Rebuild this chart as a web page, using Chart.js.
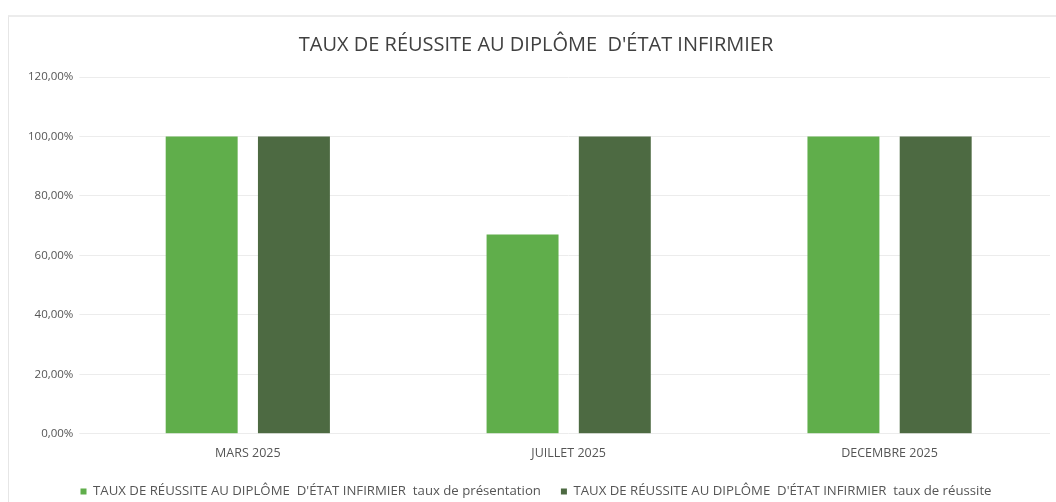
<!DOCTYPE html>
<html>
<head>
<meta charset="utf-8">
<script src="https://cdn.jsdelivr.net/npm/chart.js@4"></script>
<style>
  html, body { margin: 0; padding: 0; background: #fff; }
  #wrap { position: absolute; left: 8px; top: 15px; width: 1048px; height: 487px; border-left: 1px solid #e6e6e6; border-top: 2px solid #ececec; box-sizing: border-box; }
  canvas { position: absolute; left: 0; top: 0; }
</style>
</head>
<body>
<div id="wrap"></div>
<canvas id="myChart" width="1056" height="502"></canvas>
<script>
const categories = ["MARS 2025", "JUILLET 2025", "DECEMBRE 2025"];
const presentation = [100, 67, 100];
const reussite = [100, 100, 100];
const seriesNames = [
  "TAUX DE RÉUSSITE AU DIPLÔME  D'ÉTAT INFIRMIER  taux de présentation",
  "TAUX DE RÉUSSITE AU DIPLÔME  D'ÉTAT INFIRMIER  taux de réussite"
];

// pull the legend a bit closer to the bottom edge
const legendShift = {
  id: 'legendShift',
  beforeInit(chart) {
    const origFit = chart.legend.fit;
    chart.legend.fit = function () {
      origFit.bind(chart.legend)();
      this.height -= 6;
    };
  }
};

const ctx = document.getElementById('myChart');

new Chart(ctx, {
  type: 'bar',
  data: {
    labels: categories,
    datasets: [{
      label: seriesNames[0],
      data: presentation,
      backgroundColor: '#60ae4b',
      categoryPercentage: 0.575,
      barPercentage: 0.78
    }, {
      label: seriesNames[1],
      data: reussite,
      backgroundColor: '#4d6a42',
      categoryPercentage: 0.575,
      barPercentage: 0.78
    }]
  },
  options: {
    responsive: false,
    animation: false,
    layout: { padding: { left: 22, right: 6, top: 33, bottom: 0 } },
    plugins: {
      title: {
        display: true,
        text: "TAUX DE RÉUSSITE AU DIPLÔME  D'ÉTAT INFIRMIER",
        color: '#404040',
        font: { family: 'Open Sans', size: 20, weight: 'normal' },
        padding: { top: 0, bottom: 20 }
      },
      legend: {
        position: 'bottom',
        labels: {
          color: '#555',
          font: { family: 'Open Sans', size: 13.2 },
          boxWidth: 6,
          boxHeight: 6,
          padding: 20
        }
      },
      tooltip: { enabled: false }
    },
    scales: {
      x: {
        grid: { display: false },
        border: { display: false },
        ticks: { color: '#555', font: { family: 'Open Sans', size: 12.5 }, padding: 4 }
      },
      y: {
        min: 0,
        max: 120,
        ticks: {
          stepSize: 20,
          color: '#555',
          font: { family: 'Open Sans', size: 11.5 },
          padding: 6,
          callback: v => v.toFixed(2).replace('.', ',') + '%'
        },
        grid: { color: '#ececec' },
        border: { display: false }
      }
    }
  },
  plugins: [legendShift]
});
</script>
</body>
</html>
